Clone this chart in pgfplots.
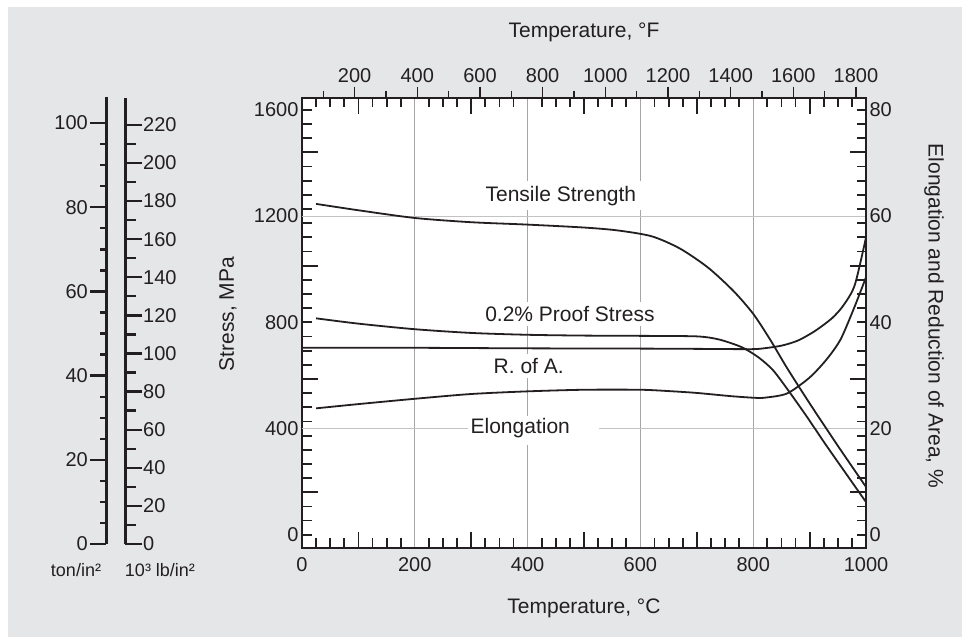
\documentclass[border=0pt]{standalone}
\usepackage{pgfplots}
\pgfplotsset{compat=1.18}
\usepackage{fontspec}
\setmainfont{Liberation Sans}
\definecolor{bg}{RGB}{229,230,232}
\definecolor{ink}{RGB}{35,31,32}
\definecolor{vgrid}{RGB}{165,165,165}
\definecolor{hgrid}{RGB}{195,195,195}

\pgfplotsset{
  frame/.style={at={(302bp,96bp)}, anchor=south west, scale only axis,
    width=564bp, height=450.3bp},
  tk/.style={font=\fontsize{20bp}{24bp}\selectfont, text=ink},
  curve/.style={ink, line width=1.8bp, smooth, tension=0.45, no markers},
  every axis/.append style={
    /pgf/number format/assume math mode=true,
    /pgf/number format/1000 sep={},
    scaled ticks=false,
    tick label style={tk}},
}
\tikzset{lab/.style={font=\fontsize{21bp}{25bp}\selectfont, text=ink}}

\begin{document}
\begin{tikzpicture}
\fill[white] (0,0) rectangle (970bp,644bp);
\fill[bg] (8bp,7bp) rectangle (962bp,637bp);

% main axis: stress (MPa) against temperature (C)
\begin{axis}[frame,
  xmin=0, xmax=1000, ymin=-50, ymax=1646,
  axis background/.style={fill=white},
  axis line style={ink, line width=1.8bp},
  xtick={0,200,...,1000}, ytick={0,400,...,1600},
  xtick pos=left, ytick pos=left,
  major tick length=0pt,
  xticklabel style={yshift=-6bp},
  xmajorgrids, major grid style={vgrid, line width=1bp},
  extra y ticks={400,1200}, extra y tick labels={},
  extra y tick style={grid=major, major grid style={hgrid, line width=1bp}},
]
\fill[white] (axis cs:294,338) rectangle (axis cs:527,447);
\node[lab] at (axis cs:387,402) {Elongation};
\node[lab, fill=white, inner xsep=7bp, inner ysep=5bp] at (axis cs:459,1277) {Tensile Strength};
\node[lab, fill=white, inner xsep=4bp, inner ysep=4bp] at (axis cs:475,832) {0.2\% Proof Stress};
\node[lab, fill=white, inner xsep=4bp, inner ysep=4bp] at (axis cs:402,636) {R. of A.};
% tensile strength
\addplot[curve] coordinates {(25,1246) (100,1222) (200,1193) (300,1177) (400,1168)
  (500,1157) (560,1146) (620,1124) (670,1078) (720,1006) (765,918) (800,832)
  (830,735) (860,628) (900,495) (950,335) (1000,180)};
% 0.2% proof stress
\addplot[curve] coordinates {(25,815) (100,795) (200,774) (300,760) (400,753)
  (500,750) (600,749) (700,747) (740,735) (780,706) (810,667) (835,620)
  (860,550) (895,445) (930,335) (1000,123)};
\end{axis}

% short inward ticks
\begin{axis}[frame, xmin=0, xmax=1000, ymin=-50, ymax=1646,
  axis line style={draw=none}, tick align=inside,
  xtick pos=both, ytick pos=both,
  xticklabels={}, yticklabels={},
  major tick length=9.5bp, tick style={ink, line width=1.8bp},
  xtick={25,50,75,125,150,175,225,250,275,325,350,375,425,450,475,525,550,575,
    625,650,675,725,750,775,825,850,875,925,950,975},
  ytick={0,53.33,106.67,213.33,266.67,320,373.33,426.67,480,533.33,640,693.33,
    746.67,800,853.33,906.67,960,1066.67,1120,1173.33,1226.67,1280,1333.33,
    1386.67,1493.33,1546.67,1600},
]
\end{axis}

% long inward ticks
\begin{axis}[frame, xmin=0, xmax=1000, ymin=-50, ymax=1646,
  axis line style={draw=none}, tick align=inside,
  xtick pos=both, ytick pos=both,
  xticklabels={}, yticklabels={},
  major tick length=16bp, tick style={ink, line width=1.8bp},
  xtick={100,300,500,700,900},
  ytick={160,586.67,1013.33,1440},
]
\end{axis}

% right axis: elongation and reduction of area (%)
\begin{axis}[frame, xmin=0, xmax=1000, ymin=-2.5, ymax=82.3,
  axis y line*=right, hide x axis,
  axis line style={ink, line width=1.8bp},
  ytick={0,20,...,80}, major tick length=0pt,
]
% reduction of area
\addplot[curve] coordinates {(0,35.2) (200,35.2) (400,35.1) (600,35.05) (700,35.0)
  (780,34.95) (810,35.0) (850,35.6) (880,36.6) (910,38.4) (940,40.8) (960,43.2)
  (980,47) (1000,56)};
% elongation
\addplot[curve] coordinates {(25,23.8) (100,24.6) (200,25.6) (300,26.5) (400,27.0)
  (500,27.3) (600,27.3) (650,27.05) (700,26.7) (760,26.1) (800,25.8) (820,25.8)
  (860,26.6) (900,29.6) (930,33) (955,36.8) (980,43) (1000,48.5)};
\end{axis}

% top axis: temperature (F)
\begin{axis}[frame, xmin=32, xmax=1832, ymin=0, ymax=1,
  axis x line*=top, hide y axis,
  axis line style={ink, line width=1.8bp},
  tick align=outside, tick style={ink, line width=1.5bp},
  xtick={200,400,...,1800}, minor xtick={100,300,...,1700},
  major tick length=11bp, minor tick length=7bp,
]
\end{axis}

% side scale: ton/in2
\begin{axis}[at={(106bp,100bp)}, anchor=south west, scale only axis,
  width=1bp, height=447bp, xmin=0, xmax=1, ymin=0, ymax=106.2,
  axis y line*=left, hide x axis,
  axis line style={ink, line width=3bp},
  tick align=outside, tick style={ink, line width=2.3bp},
  ytick={0,20,...,100}, minor y tick num=3,
  major tick length=16bp, minor tick length=6bp,
  yticklabel style={inner xsep=2bp},
]
\end{axis}

% side scale: 10^3 lb/in2
\begin{axis}[at={(125bp,100bp)}, anchor=south east, scale only axis,
  width=1bp, height=446bp, xmin=0, xmax=1, ymin=0, ymax=234.1,
  axis y line*=right, hide x axis,
  axis line style={ink, line width=3bp},
  tick align=outside, tick style={ink, line width=2.3bp},
  ytick={0,20,...,220}, minor y tick num=1,
  major tick length=17bp, minor tick length=11bp,
  yticklabel style={inner xsep=1bp},
]
\end{axis}

\node[lab, rotate=90] at (228bp,330bp) {Stress, MPa};
\node[lab, rotate=-90] at (934bp,328bp) {Elongation and Reduction of Area, \%};
\node[lab] at (584bp,612bp) {Temperature, °F};
\node[lab] at (584bp,36bp) {Temperature, °C};
\node[font=\fontsize{18bp}{22bp}\selectfont, text=ink] at (76bp,74bp) {ton/in²};
\node[font=\fontsize{18bp}{22bp}\selectfont, text=ink] at (160bp,74bp) {10³ lb/in²};
\end{tikzpicture}
\end{document}
